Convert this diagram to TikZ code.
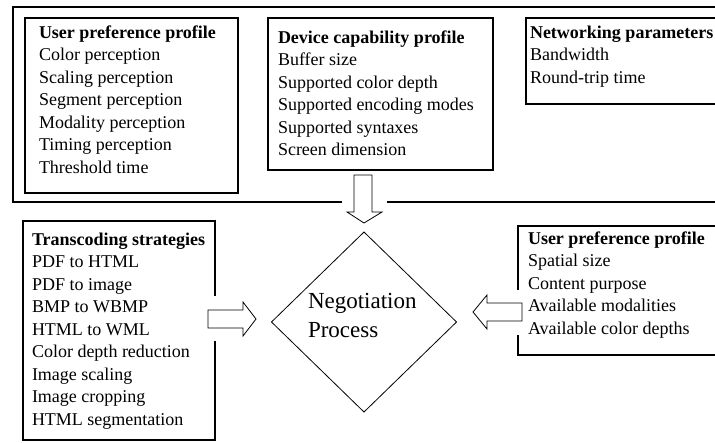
\documentclass[tikz,border=0pt]{standalone}
\usepackage{fontspec}
\setmainfont{Liberation Serif}
\usetikzlibrary{shapes.geometric}
\tikzset{
  x=1pt, y=-1pt,
  boxline/.style={draw, line width=1.2pt, rectangle, inner sep=0pt, outer sep=0pt, anchor=north west},
  frameline/.style={line width=1.2pt},
  txt/.style={inner sep=0pt, outer sep=0pt, anchor=base west, font=\fontsize{18}{22.5}\selectfont},
  bigtxt/.style={inner sep=0pt, outer sep=0pt, anchor=base west, font=\fontsize{23}{29}\selectfont},
  decision/.style={draw, diamond, line width=0.8pt, inner sep=0pt, outer sep=0pt},
  blockarrow/.style={draw, fill=white, line width=0.8pt, line join=miter},
  gapfill/.style={fill=white},
}
\begin{document}
\begin{tikzpicture}
\useasboundingbox (0,0) rectangle (715,442);
\clip (0,0) rectangle (715,442);
% outer frame
\coordinate (fa) at (342,202);
\coordinate (fb) at (13,202);
\coordinate (fc) at (13,7);
\coordinate (fd) at (740,7);
\coordinate (fe) at (387,202);
\coordinate (ff) at (740,202);
\draw[frameline] (fa) -- (fb) -- (fc) -- (fd);
\draw[frameline] (fe) -- (ff);
% boxes
\node[boxline, minimum width=213pt, minimum height=175pt] (upp) at (25,18) {};
\node[boxline, minimum width=225pt, minimum height=152pt] (dev) at (268,18) {};
\node[boxline, minimum width=300pt, minimum height=86pt] (net) at (526,18) {};
\node[boxline, minimum width=192pt, minimum height=219pt] (trans) at (23,221) {};
\node[boxline, minimum width=300pt, minimum height=129pt] (upp2) at (518,226) {};
% texts
\node[txt] (upptxt) at (39,38) {\parbox[t]{200pt}{\textbf{User preference profile}\\Color perception\\Scaling perception\\Segment perception\\Modality perception\\Timing perception\\Threshold time}};
\node[txt] (devtxt) at (278,43) {\parbox[t]{210pt}{\textbf{Device capability profile}\\Buffer size\\Supported color depth\\Supported encoding modes\\Supported syntaxes\\Screen dimension}};
\node[txt] (nettxt) at (530,38) {\parbox[t]{220pt}{\textbf{Networking parameters}\\Bandwidth\\Round-trip time}};
\node[txt] (transtxt) at (32,245) {\parbox[t]{190pt}{\textbf{Transcoding strategies}\\PDF to HTML\\PDF to image\\BMP to WBMP\\HTML to WML\\Color depth reduction\\Image scaling\\Image cropping\\HTML segmentation}};
\node[txt] (upp2txt) at (528,244) {\parbox[t]{220pt}{\textbf{User preference profile}\\Spatial size\\Content purpose\\Available modalities\\Available color depths}};
% diamond
\node[decision, minimum width=185pt, minimum height=180pt] (neg) at (364,322) {};
\node[bigtxt] (negtxt) at (308,308) {\parbox[t]{120pt}{Negotiation\\Process}};
% gaps in borders
\fill[gapfill] (211,296) rectangle (219,341);
\fill[gapfill] (514,290) rectangle (522,335);
% block arrows
\draw[blockarrow] (354,175) -- (372,175) -- (372,212) -- (382,212) -- (364,223) -- (347,212) -- (354,212) -- cycle;
\draw[blockarrow] (208,310) -- (243,310) -- (243,302) -- (256,319) -- (243,336) -- (243,328) -- (208,328) -- cycle;
\draw[blockarrow] (522,303) -- (487,303) -- (487,295) -- (473,312) -- (487,329) -- (487,321) -- (522,321) -- cycle;
\end{tikzpicture}
\end{document}
